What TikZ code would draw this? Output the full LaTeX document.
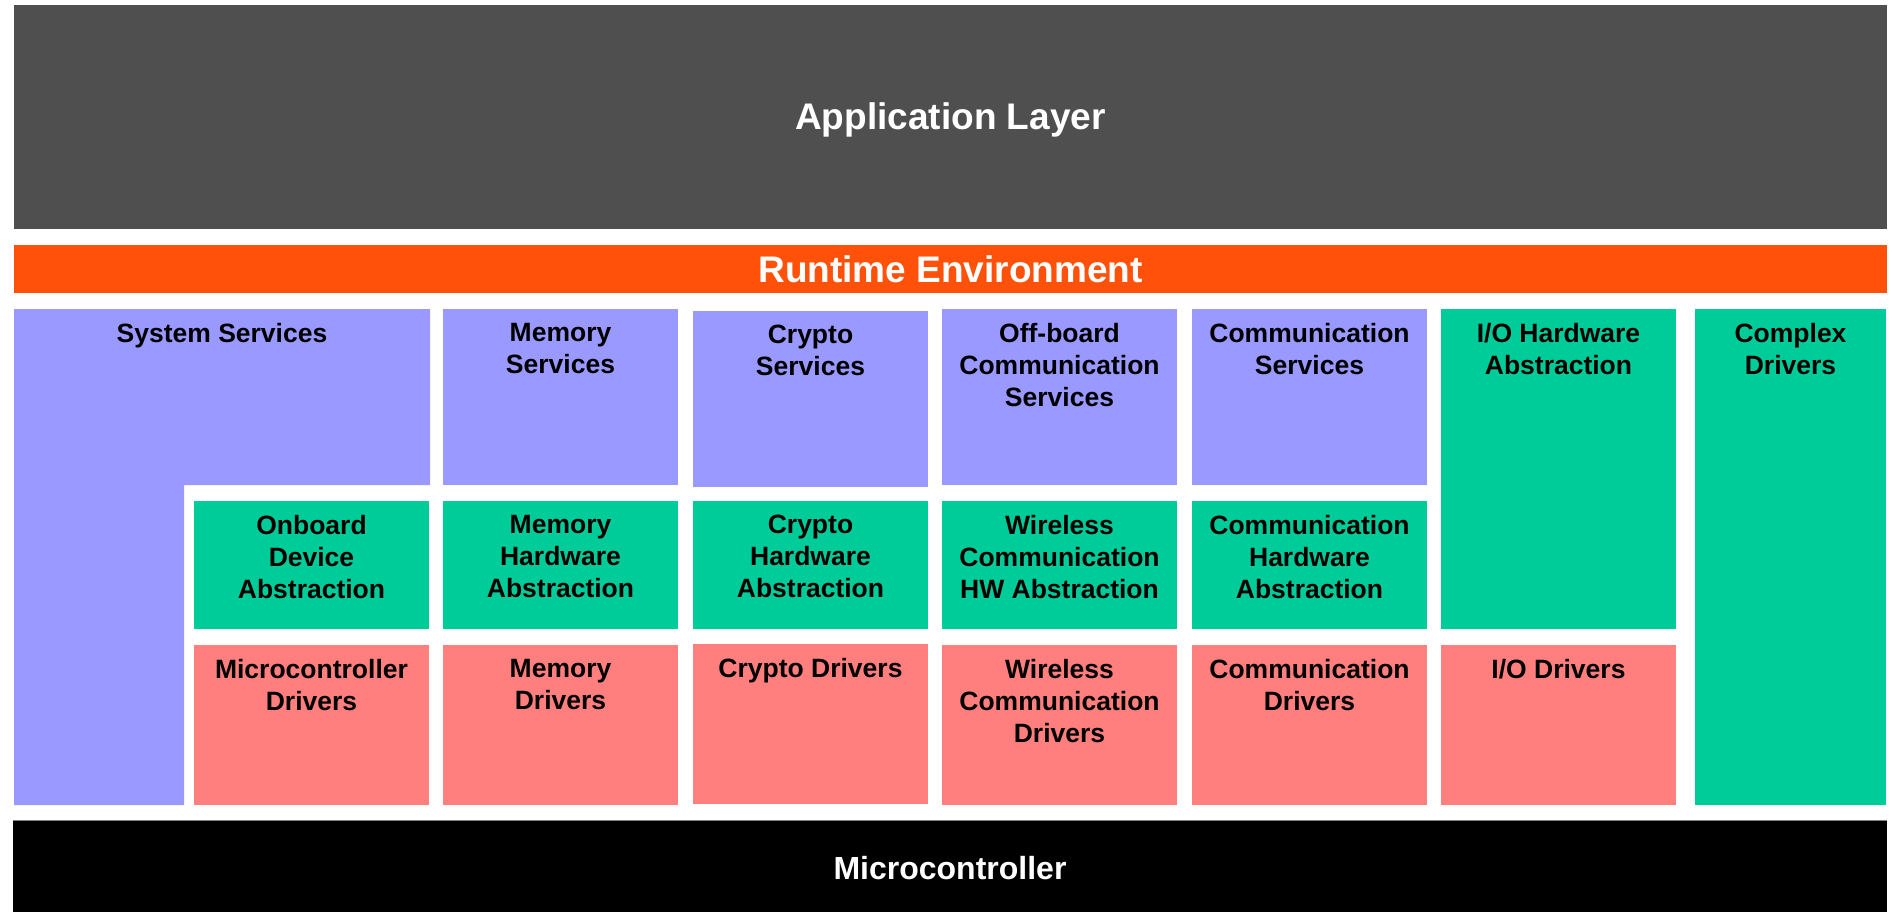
\documentclass[tikz,border=0pt]{standalone}
\usepackage{fontspec}
\setmainfont{Liberation Sans}
\usetikzlibrary{positioning}
\definecolor{applgray}{HTML}{4F4F4F}
\definecolor{rteorange}{HTML}{FF5109}
\definecolor{svcblue}{HTML}{9999FF}
\definecolor{hwgreen}{HTML}{00CC99}
\definecolor{drvred}{HTML}{FF7F7F}
\tikzset{%
  cell/.style    = {shape=rectangle, inner sep=0pt, outer sep=0pt,%
                    anchor=north west, minimum width=235pt},%
  svc/.style     = {cell, fill=svcblue, minimum height=176pt},%
  hwabs/.style   = {cell, fill=hwgreen, minimum height=128pt},%
  drv/.style     = {cell, fill=drvred, minimum height=160pt},%
  bar/.style     = {cell, minimum width=1873pt},%
  barlbl/.style  = {text=white, font=\bfseries\fontsize{37}{40}\selectfont},%
  lbl/.style     = {inner sep=0pt, align=center,%
                    font=\bfseries\fontsize{26.5}{32}\selectfont}%
}

\begin{document}
\begin{tikzpicture}[x=1pt,y=-1pt,node distance=14pt]
  \useasboundingbox (0,0) rectangle (1893,912);
  % top layers
  \node[bar, fill=applgray, minimum height=224pt] (app) at (14,5) {};
  \node[barlbl] at ([yshift=-3pt]app.center) {Application Layer};
  \node[bar, fill=rteorange, minimum height=48pt] (rte) at (14,245) {};
  \node[barlbl] at (rte.center) {Runtime Environment};
  % system services (L shape)
  \fill[svcblue] (14,309) -- (430,309) -- (430,485) -- (184,485)
                 -- (184,805) -- (14,805) -- cycle;
  \node[lbl, anchor=north] (syssvc) at (222,323) {System Services};
  % services
  \node[svc] (memsvc) at (443,309) {};
  \node[lbl, below=of memsvc.north] {Memory\\Services};
  \node[svc] (crysvc) at (693,311) {};
  \node[lbl, below=of crysvc.north] {Crypto\\Services};
  \node[svc] (offsvc) at (942,309) {};
  \node[lbl, below=of offsvc.north] {Off-board\\Communication\\Services};
  \node[svc] (comsvc) at (1192,309) {};
  \node[lbl, below=of comsvc.north] {Communication\\Services};
  \node[cell, fill=hwgreen, minimum height=320pt] (iohw) at (1441,309) {};
  \node[lbl, below=of iohw.north] {I/O Hardware\\Abstraction};
  \node[cell, fill=hwgreen, minimum width=191pt, minimum height=496pt] (cdd) at (1695,309) {};
  \node[lbl, below=of cdd.north] {Complex\\Drivers};
  % hardware abstraction
  \node[hwabs] (onbhw) at (194,501) {};
  \node[lbl, below=of onbhw.north] {Onboard\\Device\\Abstraction};
  \node[hwabs] (memhw) at (443,501) {};
  \node[lbl, below=of memhw.north] {Memory\\Hardware\\Abstraction};
  \node[hwabs] (cryhw) at (693,501) {};
  \node[lbl, below=of cryhw.north] {Crypto\\Hardware\\Abstraction};
  \node[hwabs] (wlshw) at (942,501) {};
  \node[lbl, below=of wlshw.north] {Wireless\\Communication\\HW Abstraction};
  \node[hwabs] (comhw) at (1192,501) {};
  \node[lbl, below=of comhw.north] {Communication\\Hardware\\Abstraction};
  % drivers
  \node[drv] (mcudrv) at (194,645) {};
  \node[lbl, below=of mcudrv.north] {Microcontroller\\Drivers};
  \node[drv] (memdrv) at (443,645) {};
  \node[lbl, below=of memdrv.north] {Memory\\Drivers};
  \node[drv] (crydrv) at (693,644) {};
  \node[lbl, below=of crydrv.north] {Crypto Drivers};
  \node[drv] (wlsdrv) at (942,645) {};
  \node[lbl, below=of wlsdrv.north] {Wireless\\Communication\\Drivers};
  \node[drv] (comdrv) at (1192,645) {};
  \node[lbl, below=of comdrv.north] {Communication\\Drivers};
  \node[drv] (iodrv) at (1441,645) {};
  \node[lbl, below=of iodrv.north] {I/O Drivers};
  % hardware
  \node[bar, fill=black, minimum width=1874pt, minimum height=92pt] (mcu) at (13,820) {};
  \node[barlbl, font=\bfseries\fontsize{32}{36}\selectfont] at ([yshift=-2pt]mcu.center) {Microcontroller};
  \draw[gray, line width=1pt] (mcu.north west) -- (mcu.north east);
\end{tikzpicture}
\end{document}
